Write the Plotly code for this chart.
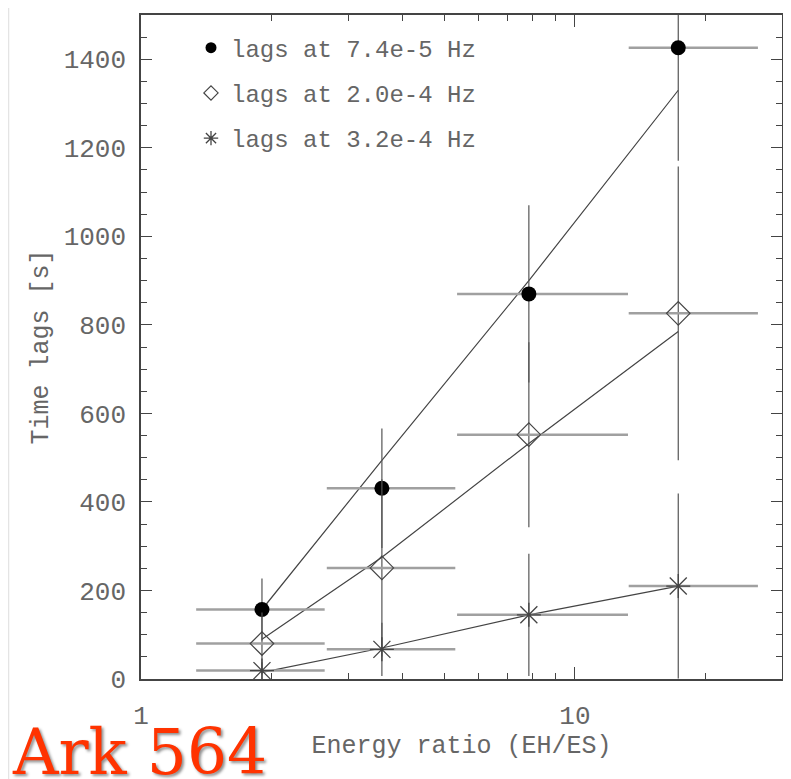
import plotly.graph_objects as go

# ---- data ----
energy_ratio = [1.90, 3.59, 7.83, 17.3]          # bin centres (EH/ES)
bin_low = [1.34, 2.68, 5.35, 13.3]               # bin lower edges
bin_high = [2.65, 5.30, 13.25, 26.4]             # bin upper edges

lag_74 = [157, 431, 870, 1426]                   # lags at 7.4e-5 Hz
err_74 = [70, 135, 200, 255]
lag_20 = [80, 251, 552, 826]                     # lags at 2.0e-4 Hz
err_20 = [70, 200, 209, 332]
lag_32 = [19, 67, 145, 210]                      # lags at 3.2e-4 Hz
err_32 = [19, 60, 138, 209]

fit_74 = [157, 494, 900, 1330]                   # model lines
fit_20 = [90, 275, 532, 785]
fit_32 = [15, 70, 145, 210]

legend_names = ["lags at 7.4e-5 Hz", "lags at 2.0e-4 Hz", "lags at 3.2e-4 Hz"]
x_tickvals = [1, 10]
x_minor = [2, 3, 4, 5, 6, 7, 8, 9, 20, 30]

err_plus = [h - c for h, c in zip(bin_high, energy_ratio)]
err_minus = [c - l for c, l in zip(energy_ratio, bin_low)]

INK = "#444444"
TXT = "#666666"
FONT = "Liberation Mono"

fig = go.Figure()

# fit lines
for fit in (fit_74, fit_20, fit_32):
    fig.add_trace(go.Scatter(x=energy_ratio, y=fit, mode="lines",
                             line=dict(color=INK, width=1.2),
                             showlegend=False, hoverinfo="skip"))

symbols = [
    dict(symbol="circle", size=15, color="black", line=dict(width=0)),
    dict(symbol="diamond-open", size=18, color=INK, line=dict(width=1.2, color=INK)),
    dict(symbol="asterisk-open", size=20, color=INK, line=dict(width=1.3, color=INK)),
]
for lag, err, mk in zip((lag_74, lag_20, lag_32), (err_74, err_20, err_32), symbols):
    fig.add_trace(go.Scatter(
        x=energy_ratio, y=lag, mode="markers", marker=mk, showlegend=False,
        error_x=dict(type="data", symmetric=False, array=err_plus, arrayminus=err_minus,
                     color="#a0a0a0", thickness=2.5, width=0),
        error_y=dict(type="data", array=err, color="#555555", thickness=1.2, width=0),
    ))

# legend entries
leg_symbols = [
    dict(symbol="circle", size=11, color="black", line=dict(width=0)),
    dict(symbol="diamond-open", size=11, color=INK, line=dict(width=1.2, color=INK)),
    dict(symbol="asterisk-open", size=12, color=INK, line=dict(width=1.3, color=INK)),
]
for i, (name, mk) in enumerate(zip(legend_names, leg_symbols)):
    fig.add_trace(go.Scatter(x=[None], y=[None], mode="markers", marker=mk,
                             name=name, legendgroup=f"g{i}", showlegend=True))

fig.update_layout(
    width=783, height=771,
    margin=dict(l=133, r=9, t=5, b=100),
    paper_bgcolor="white", plot_bgcolor="white",
    font=dict(family=FONT, color=TXT, size=24),
    showlegend=True,
    legend=dict(x=0.078, y=0.984, xanchor="left", yanchor="top",
                bgcolor="rgba(0,0,0,0)", font=dict(family=FONT, size=24, color=TXT),
                tracegroupgap=11, itemwidth=30),
    xaxis=dict(
        type="log", range=[0, 1.4771], tickvals=x_tickvals, ticktext=["1", "10"],
        ticks="inside", ticklen=12, tickwidth=1.2, tickcolor=INK,
        minor=dict(tickvals=x_minor, ticks="inside", ticklen=6, tickwidth=1.2, tickcolor=INK),
        showline=True, linecolor=INK, linewidth=1.5, mirror="ticks",
        showgrid=False, zeroline=False,
        tickfont=dict(family=FONT, size=26, color=TXT), ticklabelstandoff=12,
        title=dict(text="Energy ratio (EH/ES)", font=dict(family=FONT, size=25, color=TXT), standoff=4),
    ),
    yaxis=dict(
        range=[0, 1500], dtick=200, tick0=0,
        ticks="inside", ticklen=11, tickwidth=1.2, tickcolor=INK,
        minor=dict(dtick=50, ticks="inside", ticklen=6, tickwidth=1.2, tickcolor=INK),
        showline=True, linecolor=INK, linewidth=1.5, mirror="ticks",
        showgrid=False, zeroline=False,
        tickfont=dict(family=FONT, size=26, color=TXT), ticklabelstandoff=8,
        title=dict(text="Time lags [s]", font=dict(family=FONT, size=25, color=TXT), standoff=8),
    ),
    annotations=[dict(
        text="Ark 564", xref="paper", yref="paper", x=-0.2037, y=-0.1111,
        xanchor="left", yanchor="middle", showarrow=False,
        font=dict(family="DejaVu Serif", size=63, color="#ff3300",
                  shadow="2px 2px 3px rgba(0,0,0,0.45)"),
    )],
    shapes=[dict(type="line", xref="paper", yref="paper", x0=-0.2067, x1=-0.2067,
                 y0=-0.16, y1=1.02, line=dict(color="#e4e4e4", width=1.5))],
)

fig.write_html("out.html")
